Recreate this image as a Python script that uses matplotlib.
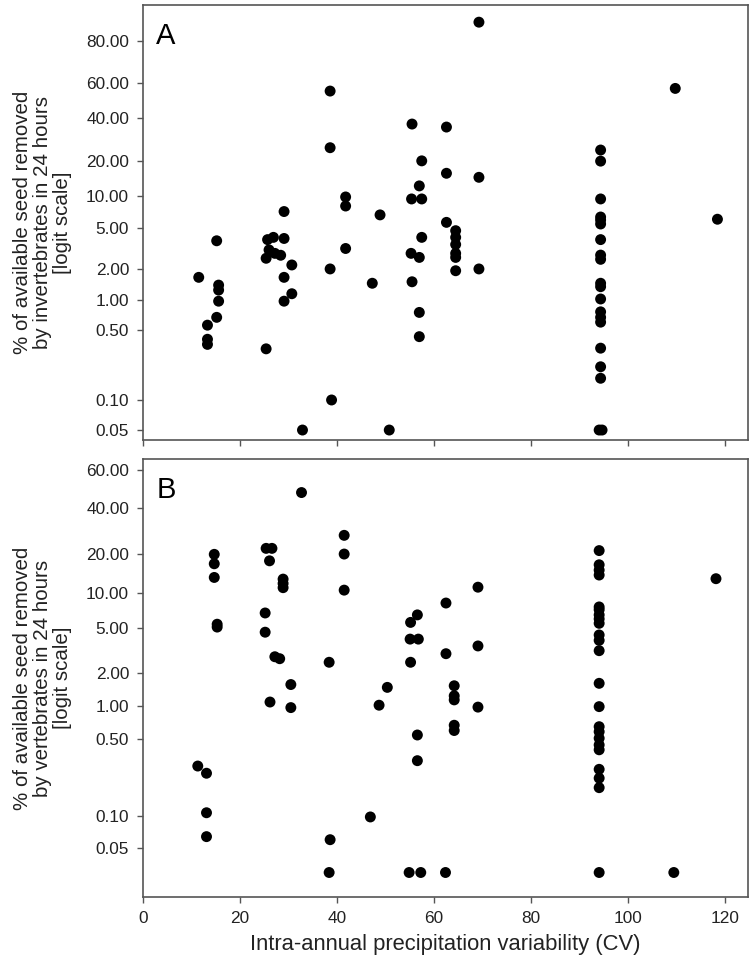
import numpy as np
import matplotlib
matplotlib.use("Agg")
import matplotlib.pyplot as plt
from matplotlib.ticker import FixedLocator, FuncFormatter, NullLocator, NullFormatter

plt.rcParams['font.family'] = ['Liberation Sans', 'DejaVu Sans']

# Panel A: invertebrates (x = CV, y = % removed)
xA = [11.5, 15.2, 15.6, 15.6, 15.6, 15.2, 13.3, 13.3, 13.3, 25.4,
      29.1, 25.7, 26.9, 29.1, 25.4, 26.0, 27.2, 28.4, 30.7, 29.1,
      30.7, 29.1, 32.9, 38.6, 38.6, 38.6, 38.9, 41.8, 41.8, 41.8,
      48.9, 47.3, 50.8, 55.5, 57.5, 57.0, 55.4, 57.5, 57.5, 55.3,
      57.0, 55.5, 57.0, 57.0, 62.6, 62.6, 62.6, 69.3, 69.3, 64.5,
      64.5, 64.5, 64.5, 64.5, 64.5, 69.3,
      94.4, 94.4, 94.4, 94.4, 94.4, 94.4, 94.4, 94.4, 94.4, 94.4,
      94.4, 94.4, 94.4, 94.4, 94.4, 94.4, 94.4, 94.4, 94.1, 94.7,
      109.8, 118.5]
yA = [1.67, 3.8, 1.40, 1.25, 0.97, 0.67, 0.56, 0.405, 0.36, 0.325,
      7.2, 3.9, 4.1, 4.0, 2.57, 3.1, 2.87, 2.75, 2.21, 1.67,
      1.15, 0.97, 0.05, 55.6, 25.3, 2.02, 0.10, 9.8, 8.1, 3.2,
      6.7, 1.46, 0.05, 36.9, 20.0, 12.3, 9.4, 9.4, 4.1, 2.87,
      2.62, 1.51, 0.75, 0.43, 35.3, 15.8, 5.7, 86.0, 14.6, 4.75,
      4.1, 3.5, 2.87, 2.62, 1.94, 2.02,
      24.3, 19.9, 9.4, 6.4, 6.0, 5.5, 3.9, 2.76, 2.51, 1.46,
      1.35, 1.02, 0.76, 0.67, 0.60, 0.33, 0.215, 0.165, 0.05, 0.05,
      57.1, 6.1]

# Panel B: vertebrates
xB = [32.7, 14.7, 14.7, 14.7, 15.3, 15.3, 25.4, 26.6, 26.1, 28.9,
      28.9, 28.9, 41.5, 41.5, 41.5, 25.2, 25.2, 27.2, 28.2, 30.5,
      26.2, 30.5, 38.4, 50.4, 48.7, 46.9, 11.3, 13.1, 13.1, 13.1,
      38.6, 38.4, 54.9, 57.3, 62.4, 55.2, 56.6, 55.1, 56.8, 55.2,
      56.6, 56.6, 62.5, 62.5, 69.1, 69.1, 69.1, 64.2, 64.2, 64.2,
      64.2, 64.2,
      94.1, 94.1, 94.1, 94.1, 94.1, 94.1, 94.1, 94.1, 94.1, 94.1,
      94.1, 94.1, 94.1, 94.1, 94.1, 94.1, 94.1, 94.1, 94.1, 94.1,
      94.1, 94.1, 94.1,
      109.5, 118.2]
yB = [48.0, 20.0, 17.0, 13.3, 5.4, 5.1, 22.1, 22.1, 17.9, 12.9,
      11.9, 11.0, 27.2, 20.1, 10.5, 6.75, 4.6, 2.79, 2.68, 1.57,
      1.09, 0.97, 2.49, 1.48, 1.02, 0.097, 0.284, 0.244, 0.106, 0.064,
      0.060, 0.03, 0.03, 0.03, 0.03, 5.6, 6.5, 4.0, 4.0, 2.49,
      0.546, 0.318, 8.2, 2.97, 11.1, 3.48, 0.98, 1.53, 1.24, 1.14,
      0.67, 0.60,
      21.3, 16.7, 15.2, 13.9, 7.6, 7.2, 6.5, 6.0, 5.5, 4.35,
      3.9, 3.16, 1.61, 0.99, 0.65, 0.585, 0.51, 0.443, 0.40, 0.265,
      0.22, 0.18, 0.03,
      0.03, 13.0]

ticksA = [0.05, 0.10, 0.50, 1.00, 2.00, 5.00, 10.00, 20.00, 40.00, 60.00, 80.00]
ticksB = [0.05, 0.10, 0.50, 1.00, 2.00, 5.00, 10.00, 20.00, 40.00, 60.00]
xticks = [0, 20, 40, 60, 80, 100, 120]

fig = plt.figure(figsize=(7.55, 9.72), dpi=100)
axA = fig.add_axes([0.1894, 0.5473, 0.8013, 0.4475])
axB = fig.add_axes([0.1894, 0.0775, 0.8013, 0.4500])

spine_col = '#555555'
text_col = '#222222'


def style(ax, xs, ys, ticks, ylim, label, letter):
    ax.scatter(xs, np.array(ys) / 100.0,
               s=62, color='black', edgecolors='none', zorder=3)
    ax.set_yscale('logit')
    ax.set_ylim(ylim)
    ax.set_xlim(0, 124.8)
    ax.yaxis.set_major_locator(FixedLocator(np.array(ticks) / 100.0))
    ax.yaxis.set_major_formatter(FuncFormatter(lambda v, p: f"{v * 100:.2f}"))
    ax.yaxis.set_minor_locator(NullLocator())
    ax.yaxis.set_minor_formatter(NullFormatter())
    ax.set_xticks(xticks)
    for s in ax.spines.values():
        s.set_color(spine_col)
        s.set_linewidth(1.2)
    ax.tick_params(axis='both', direction='out', length=4, width=1.0,
                   color=spine_col, labelsize=12.4, labelcolor=text_col, pad=6)
    ax.set_ylabel(label, fontsize=14.8, color=text_col, linespacing=1.05)
    ax.yaxis.set_label_coords(-0.118, 0.5)
    ax.text(0.022, 0.962, letter, transform=ax.transAxes, fontsize=21,
            va='top', ha='left', color='black')


style(axA, xA, yA, ticksA, (0.000397, 0.9012),
      "% of available seed removed\nby invertebrates in 24 hours\n[logit scale]", 'A')
style(axB, xB, yB, ticksB, (0.00018, 0.651),
      "% of available seed removed\nby vertebrates in 24 hours\n[logit scale]", 'B')

axA.tick_params(axis='x', labelbottom=False)
axB.set_xlabel("Intra-annual precipitation variability (CV)", fontsize=15.8,
               color=text_col)
axB.xaxis.set_label_coords(0.5, -0.085)

fig.savefig("out.png", dpi=100)
